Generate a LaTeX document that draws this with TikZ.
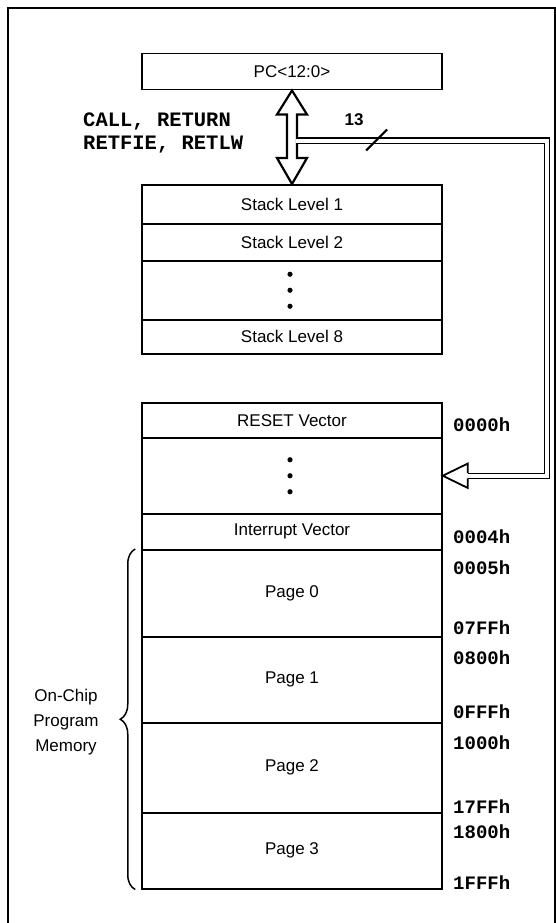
\documentclass[tikz,border=0pt]{standalone}
\usepackage{fontspec}
\setmainfont{Liberation Sans}
\setmonofont{Liberation Mono}
\usetikzlibrary{calc,decorations.pathreplacing}

\begin{document}
\begin{tikzpicture}[x=1pt, y=-1pt,
  every node/.style={font=\fontsize{17}{20}\selectfont},
  row/.style={draw, line width=1.5pt, minimum width=300pt, anchor=north, inner sep=0pt},
  addr/.style={anchor=west, inner sep=0pt, font=\fontsize{19}{20}\ttfamily\bfseries},
  bus/.style={double, double distance=4pt, line width=1.2pt},
  hollow/.style={line width=2.2pt, fill=white}]
\useasboundingbox (0,0) rectangle (556,923);
\draw[line width=1.5pt] (8,923) -- (8,8) -- (555,8) -- (555,923);

\node[row, minimum height=36pt] (pc) at (292,53) {PC<12:0>};

\node[row, minimum height=39pt] (st1) at (292,184) {Stack Level 1};
\node[row, minimum height=37pt] (st2) at (292,223) {Stack Level 2};
\node[row, minimum height=59pt] (stdots) at (292,260) {};
\node[row, minimum height=34pt] (st8) at (292,319) {Stack Level 8};

\node[row, minimum height=35pt] (reset) at (292,402) {RESET Vector};
\node[row, minimum height=76pt] (memdots) at (292,437) {};
\node[row, minimum height=36pt] (intv) at (292,513) {Interrupt Vector};
\node[row, minimum height=87pt] (pg0) at (292,549) {Page 0};
\node[row, minimum height=86pt] (pg1) at (292,636) {Page 1};
\node[row, minimum height=90pt] (pg2) at (292,722) {Page 2};
\node[row, minimum height=76pt] (pg3) at (292,812) {Page 3};

\foreach \dy in {-16,0,16} {
  \fill ($(stdots.center)+(-2,\dy)$) circle (2.6pt);
  \fill ($(memdots.center)+(-2,\dy)$) circle (2.6pt);
}

\node[anchor=west, align=left, inner sep=0pt, font=\fontsize{20.5}{23}\ttfamily\bfseries] (ops) at (83,133) {CALL, RETURN\\RETFIE, RETLW};

\draw[hollow] (pc.south) -- ++(-15,24) -- ++(10,0) -- ($(st1.north)+(-5,-26)$) -- ++(-10,0) -- (st1.north) -- ++(15,-26) -- ++(-10,0) -- ($(pc.south)+(5,24)$) -- ++(10,0) -- cycle;

\coordinate (tap) at ($(pc.south)+(3.8,50)$);
\coordinate (headbase) at ($(memdots.east)+(25,0)$);
\draw[bus] (tap) -- coordinate[pos=0.32] (cut) ++(251,0) |- (headbase);
\draw[line width=1.8pt] (headbase) ++(0,-2.6) -- ++(0,-9.6) -- (memdots.east) -- ($(headbase)+(0,12.2)$) -- ++(0,-9.6);
\draw[line width=2pt] (cut) +(-10,10) -- +(11,-11);
\node[font=\fontsize{17}{20}\bfseries] (width) at ($(cut)+(-22,-21)$) {13};

\foreach \adr/\yy in {0000h/425, 0004h/537, 0005h/568, 07FFh/628, 0800h/658, 0FFFh/712, 1000h/743, 17FFh/807, 1800h/832, 1FFFh/883}
  \node[addr] (a\adr) at (453,\yy) {\adr};

\draw[decorate, decoration={brace, amplitude=15pt}, line width=1.5pt] ($(pg3.south west)+(-6,0)$) -- ($(pg0.north west)+(-6,0)$);
\node[align=center, font=\fontsize{17}{25}\selectfont] (onchip) at (66,722) {On-Chip\\Program\\Memory};
\end{tikzpicture}
\end{document}
